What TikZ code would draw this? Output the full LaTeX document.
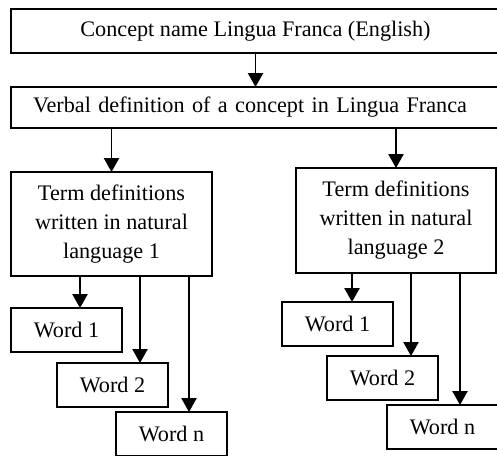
\documentclass[tikz,border=0pt]{standalone}
\usepackage{fontspec}
\setmainfont{Liberation Serif}
\usetikzlibrary{
    arrows.meta,
    positioning
}
\tikzset{
    every picture/.style = {
        line width = 0.9pt
    },
    every node/.style = {
        inner sep = 0pt,
        outer sep = 0pt,
        align = center,
        font = \fontsize{11.1pt}{14.5pt}\selectfont
    },
    link/.style = {
        -{Triangle[width = 7.6pt, length = 7pt]}
    },
    wide/.style = {
        draw,
        minimum width = 244.5pt
    },
    term/.style = {
        draw,
        minimum width = 100.5pt,
        minimum height = 52pt
    },
    word/.style = {
        draw,
        minimum width = 55.5pt,
        minimum height = 22pt
    }
}

\begin{document}
\begin{tikzpicture}[x = 0.5pt, y = 0.5pt]
    \useasboundingbox (0,0) rectangle (497,-455);

    \node[wide, minimum height = 21.85pt] (concept) at (255.5,-30.85) {Concept name Lingua Franca (English)};
    \node[wide, minimum height = 20.5pt, text width = 222.5pt, inner xsep = 11pt, align = left] (verbal)[below = 17.15pt of concept] {Verbal definition of a concept in Lingua Franca};

    \node[term] (lang1)[below right = 22pt and 0pt of verbal.south west] {Term definitions\\written in natural\\language 1};
    \node[term, minimum width = 100pt, minimum height = 52.5pt] (lang2)[below right = 20pt and 142.5pt of verbal.south west] {Term definitions\\written in natural\\language 2};

    % words, language 1
    \node[word] (w11)[below right = 16pt and 0pt of lang1.south west] {Word 1};
    \node[word] (w12)[below right = 5.5pt and 23pt of w11.south west] {Word 2};
    \node[word] (w1n)[below right = 2.5pt and 29.5pt of w12.south west] {Word n};

    % words, language 2
    \node[word] (w21)[below right = 14.5pt and -7pt of lang2.south west] {Word 1};
    \node[word] (w22)[below right = 5pt and 22.5pt of w21.south west] {Word 2};
    \node[word] (w2n)[below right = 2.5pt and 30pt of w22.south west] {Word n};

    \draw[link] (concept) -- (verbal);
    \draw[link] (lang1.north |- verbal.south) -- (lang1);
    \draw[link] (lang2.north |- verbal.south) -- (lang2);

    \draw[link] ([xshift = 34.5pt]w11.north west |- lang1.south) -- ([xshift = 34.5pt]w11.north west);
    \draw[link] ([xshift = 41.5pt]w12.north west |- lang1.south) -- ([xshift = 41.5pt]w12.north west);
    \draw[link] ([xshift = 36.5pt]w1n.north west |- lang1.south) -- ([xshift = 36.5pt]w1n.north west);

    \draw[link] ([xshift = 35pt]w21.north west |- lang2.south) -- ([xshift = 35pt]w21.north west);
    \draw[link] ([xshift = 42pt]w22.north west |- lang2.south) -- ([xshift = 42pt]w22.north west);
    \draw[link] ([xshift = 36.5pt]w2n.north west |- lang2.south) -- ([xshift = 36.5pt]w2n.north west);
\end{tikzpicture}
\end{document}
